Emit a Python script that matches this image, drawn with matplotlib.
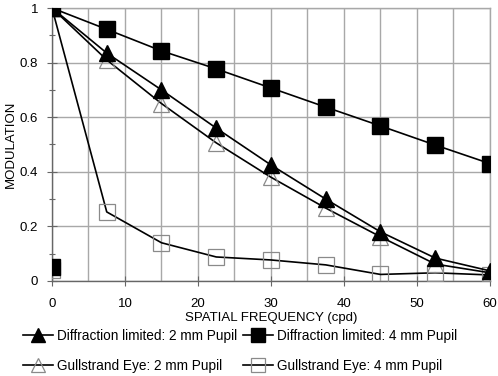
import numpy as np
import matplotlib
matplotlib.use("Agg")
import matplotlib.pyplot as plt
from matplotlib.ticker import MultipleLocator, FormatStrFormatter

plt.rcParams["font.family"] = ["Liberation Sans", "DejaVu Sans"]
plt.rcParams["font.size"] = 9.5

# spatial frequency (cpd)
freq = [0, 7.5, 15, 22.5, 30, 37.5, 45, 52.5, 60]

diff_2mm = [1.0, 0.835, 0.70, 0.56, 0.425, 0.30, 0.18, 0.084, 0.037]
diff_4mm = [1.0, 0.922, 0.843, 0.777, 0.707, 0.637, 0.568, 0.498, 0.43]
gull_2mm = [1.0, 0.81, 0.65, 0.506, 0.38, 0.267, 0.162, 0.062, 0.03]
gull_4mm = [1.0, 0.253, 0.14, 0.088, 0.077, 0.059, 0.024, 0.03, 0.022]

# stray points plotted at zero frequency
x0_diff_4mm = 0.05
x0_gull_4mm = 0.04

fig = plt.figure(figsize=(4.98, 3.76), dpi=100)
ax = fig.add_axes([0.1044, 0.2527, 0.8795, 0.726])

grid_c = "#a8a8a8"
lw = 1.2

ax.plot(freq, gull_4mm, color="black", lw=lw, zorder=2)
ax.plot(freq[1:], gull_4mm[1:], ls="none", marker="s", ms=11, mfc="none",
        mec="#8a8a8a", mew=0.9, zorder=3)
l_g4, = ax.plot([], [], color="black", lw=lw, marker="s", ms=11, mfc="none",
                mec="#8a8a8a", mew=0.9)

l_g2, = ax.plot(freq, gull_2mm, color="black", lw=lw, marker="^", ms=11,
                mfc="none", mec="#8a8a8a", mew=0.9, zorder=3)
l_d2, = ax.plot(freq, diff_2mm, color="black", lw=lw, marker="^", ms=11,
                mfc="black", mec="black", zorder=4)

ax.plot([0], [x0_gull_4mm], ls="none", marker="s", ms=11, mfc="none",
        mec="#8a8a8a", mew=0.9, zorder=4)
ax.plot([0], [x0_diff_4mm], ls="none", marker="s", ms=11, mfc="black",
        mec="black", zorder=5)
l_d4, = ax.plot(freq, diff_4mm, color="black", lw=lw, marker="s", ms=11,
                mfc="black", mec="black", zorder=5)

ax.set_xlim(0, 60)
ax.set_ylim(0, 1)
ax.xaxis.set_major_locator(MultipleLocator(10))
ax.xaxis.set_minor_locator(MultipleLocator(5))
ax.yaxis.set_major_locator(MultipleLocator(0.2))
ax.yaxis.set_minor_locator(MultipleLocator(0.1))
ax.yaxis.set_major_formatter(FormatStrFormatter("%g"))

ax.grid(True, which="major", axis="both", color=grid_c, lw=1)
ax.grid(True, which="minor", axis="x", color=grid_c, lw=1)
ax.set_axisbelow(True)
ax.tick_params(which="both", direction="inout", color="#666666", width=0.8)
ax.tick_params(which="major", length=7)
ax.tick_params(axis="x", which="major", pad=9)
ax.tick_params(axis="y", which="major", pad=6.5)
ax.tick_params(which="minor", length=5)
ax.tick_params(axis="x", which="minor", length=0)

for s in ["top", "right"]:
    ax.spines[s].set_color(grid_c)
    ax.spines[s].set_linewidth(1)
for s in ["left", "bottom"]:
    ax.spines[s].set_color("#666666")
    ax.spines[s].set_linewidth(1)

ax.set_xlabel("SPATIAL FREQUENCY (cpd)", labelpad=1)
ax.set_ylabel("MODULATION", labelpad=2)

fig.legend([l_d2, l_g2, l_d4, l_g4],
           ["Diffraction limited: 2 mm Pupil", "Gullstrand Eye: 2 mm Pupil",
            "Diffraction limited: 4 mm Pupil", "Gullstrand Eye: 4 mm Pupil"],
           ncol=2, frameon=False, loc="upper left", fontsize=9.8,
           bbox_to_anchor=(0.046, 0.126), handlelength=2.2,
           handletextpad=0.3, columnspacing=0.45, labelspacing=1.2,
           markerscale=0.95, borderaxespad=0, borderpad=0)

fig.savefig("out.png", dpi=100)
